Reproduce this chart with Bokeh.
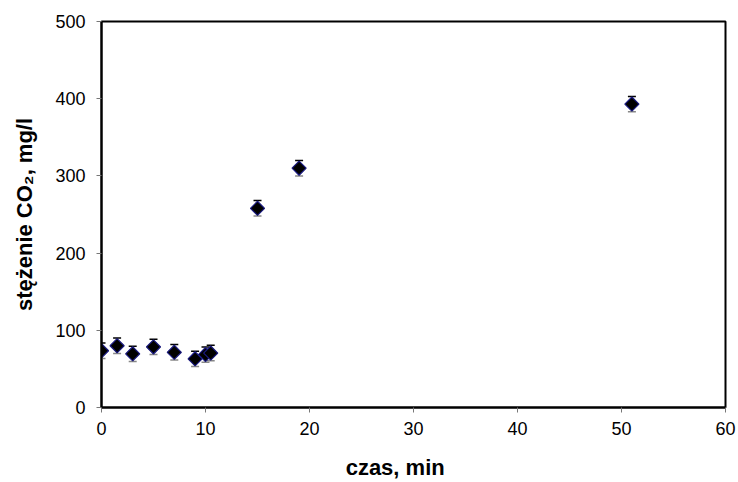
import math
from bokeh.plotting import figure
from bokeh.models import ColumnDataSource, Whisker, TeeHead, Range1d, FixedTicker
from bokeh.embed import file_html
from bokeh.resources import INLINE

# data
czas = [0, 1.5, 3, 5, 7, 9, 10, 10.5, 15, 19, 51]
stezenie = [73.5, 80, 69.5, 78.5, 71.5, 63, 68.5, 70.5, 258, 310, 393]
blad = [10, 10, 10, 10, 10, 10, 10, 10, 10, 10, 10]
x_ticks = [0, 10, 20, 30, 40, 50, 60]
y_ticks = [0, 100, 200, 300, 400, 500]

FONT = "Liberation Sans"

src = ColumnDataSource(dict(
    x=czas, y=stezenie,
    lo=[v - e for v, e in zip(stezenie, blad)],
    hi=[v + e for v, e in zip(stezenie, blad)],
))

p = figure(width=738, height=482, output_backend="svg", toolbar_location=None,
           x_range=Range1d(0, 60), y_range=Range1d(0, 500),
           min_border_left=101, min_border_right=13, min_border_top=21, min_border_bottom=75)
p.background_fill_color = "white"
p.border_fill_color = "white"
p.outline_line_color = "black"
p.outline_line_width = 2
p.xgrid.visible = False
p.ygrid.visible = False

for ax in (p.xaxis[0], p.yaxis[0]):
    ax.axis_line_color = "black"
    ax.axis_line_width = 2
    ax.major_tick_line_color = "#777777"
    ax.major_tick_line_width = 1
    ax.major_tick_out = 5
    ax.major_tick_in = 0
    ax.minor_tick_line_color = None
    ax.major_label_text_font = FONT
    ax.major_label_text_font_size = "18px"
    ax.major_label_text_color = "black"
    ax.axis_label_text_font = FONT
    ax.axis_label_text_font_size = "22px"
    ax.axis_label_text_font_style = "bold"
    ax.axis_label_text_color = "black"

p.xaxis.ticker = FixedTicker(ticks=x_ticks)
p.yaxis.ticker = FixedTicker(ticks=y_ticks)
p.xaxis.major_label_standoff = 9
p.yaxis.major_label_standoff = 11
p.yaxis.axis_label = "stężenie CO₂, mg/l"
p.yaxis.axis_label_standoff = 15
# trailing no-break spaces shift the centred label slightly left, as in the reference
p.xaxis.axis_label = "czas, min" + "\u00a0" * 6
p.xaxis.axis_label_standoff = 17

w = Whisker(source=src, base="x", lower="lo", upper="hi", dimension="height",
            line_color="#333333", line_width=1,
            upper_head=TeeHead(size=8, line_color="black", line_width=1.5),
            lower_head=TeeHead(size=8, line_color="#888888", line_width=1.5))
p.add_layout(w)

p.scatter("x", "y", source=src, marker="square", angle=math.pi / 4, size=10,
          fill_color="black", line_color="#1a1a80", line_width=1.2)

open("out.html", "w").write(file_html(p, INLINE))
